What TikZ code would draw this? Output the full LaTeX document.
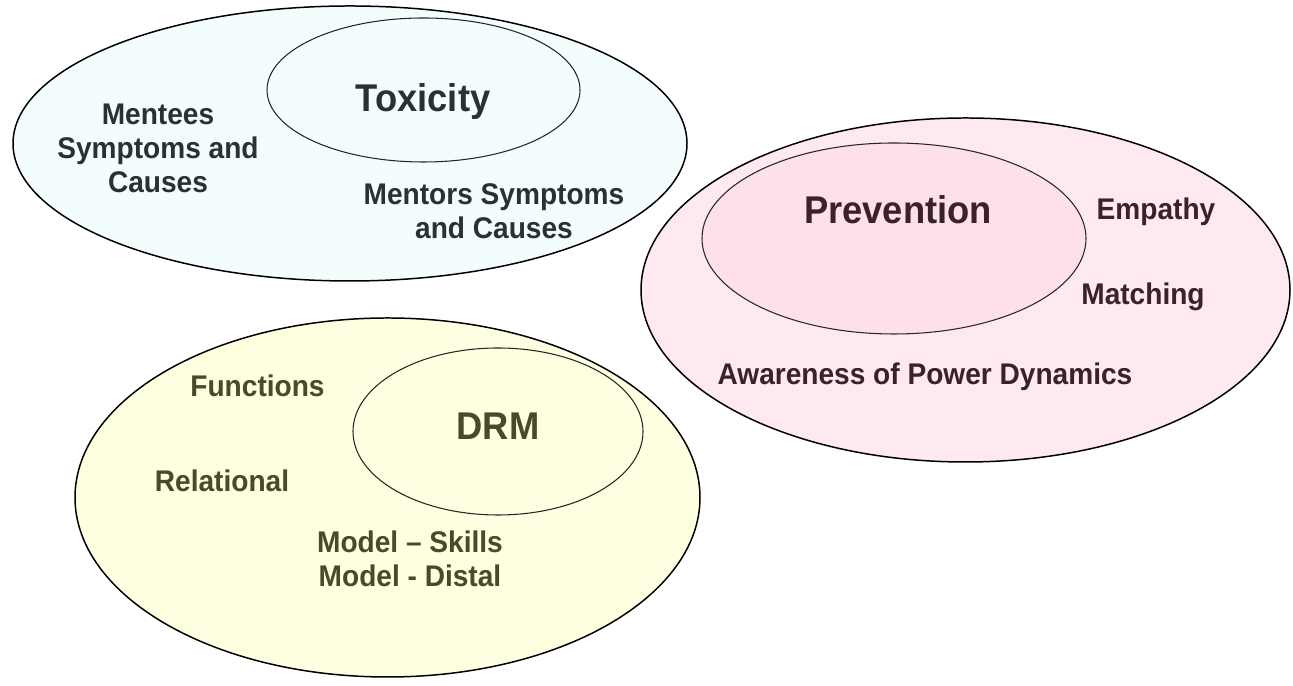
\documentclass[tikz,border=0pt]{standalone}
\usepackage{fontspec}
\setmainfont[FakeStretch=0.94]{Liberation Sans}
\usetikzlibrary{shapes.geometric,positioning}
\definecolor{toxblue}{HTML}{F4FDFE}
\definecolor{prevpink}{HTML}{FEE9F0}
\definecolor{prevpinkin}{HTML}{FDE0E9}
\definecolor{drmyellow}{HTML}{FEFEE0}
\definecolor{toxtext}{HTML}{283234}
\definecolor{prevtext}{HTML}{3A2229}
\definecolor{drmtext}{HTML}{4A4A28}
\tikzstyle{outerset} = [ellipse, draw=black, line width=0.85pt, inner sep=0pt]
\tikzstyle{innerset} = [ellipse, draw=black!85, line width=0.6pt, inner sep=0pt]
\tikzstyle{title} = [font=\fontsize{22}{26}\selectfont\bfseries, inner sep=0pt, anchor=base]
\tikzstyle{item} = [font=\fontsize{17}{19.4}\selectfont\bfseries, align=center, inner sep=0pt]

\begin{document}
\begin{tikzpicture}
\useasboundingbox (0,0) rectangle (25.86,13.72);
% toxicity
\draw (7.00,10.85) node (toxout) [outerset, fill=toxblue, minimum width=13.48cm, minimum height=5.50cm] {};
\draw (8.47,11.92) node (toxin) [innerset, fill=toxblue, minimum width=6.26cm, minimum height=2.88cm] {};
\node (tox) [title, text=toxtext] at (8.46,11.48) {Toxicity};
\node (mentee) [item, text=toxtext] at (3.16,10.76) {Mentees\\Symptoms and\\Causes};
\node (mentor) [item, text=toxtext] at (9.88,9.50) {Mentors Symptoms\\and Causes};
%
% prevention
\draw (19.31,7.92) node (prevout) [outerset, fill=prevpink, minimum width=12.98cm, minimum height=6.88cm] {};
\draw (17.88,8.95) node (previn) [innerset, fill=prevpinkin, minimum width=7.68cm, minimum height=3.82cm] {};
\node (prev) [title, text=prevtext] at (17.96,9.24) {Prevention};
\node (empathy) [item, anchor=base, text=prevtext] at (23.12,9.32) {Empathy};
\node (matching) [item, anchor=base, text=prevtext] at (22.86,7.62) {Matching};
\node (power) [item, anchor=base, text=prevtext] at (18.50,6.02) {Awareness of Power Dynamics};
%
% drm
\draw (7.75,3.77) node (drmout) [outerset, fill=drmyellow, minimum width=12.50cm, minimum height=7.18cm] {};
\draw (9.96,5.09) node (drmin) [innerset, fill=drmyellow, minimum width=5.80cm, minimum height=3.34cm] {};
\node (drm) [title, text=drmtext] at (9.96,4.92) {DRM};
\node (functions) [item, anchor=base, text=drmtext] at (5.15,5.78) {Functions};
\node (relational) [item, anchor=base, text=drmtext] at (4.44,3.88) {Relational};
\node (model) [item, text=drmtext] at (8.20,2.54) {Model -- Skills\\Model - Distal};
\end{tikzpicture}
\end{document}
